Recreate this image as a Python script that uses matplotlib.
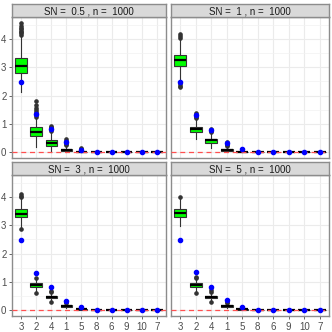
import numpy as np
import matplotlib
matplotlib.use("Agg")
import matplotlib.pyplot as plt
from matplotlib.ticker import MultipleLocator

plt.rcParams['font.family'] = ['Liberation Sans', 'DejaVu Sans']

categories = ["3", "2", "4", "1", "5", "8", "6", "9", "10", "7"]
titles = ["SN =  0.5 , n =  1000", "SN =  1 , n =  1000",
          "SN =  3 , n =  1000", "SN =  5 , n =  1000"]

# box statistics per panel (10 categories each)
q1 = [[2.81, 0.58, 0.22, 0.04, 0.0, 0, 0, 0, 0, 0],
      [3.04, 0.71, 0.33, 0.05, 0.0, 0, 0, 0, 0, 0],
      [3.29, 0.81, 0.41, 0.12, 0.01, 0, 0, 0, 0, 0],
      [3.31, 0.81, 0.42, 0.11, 0.01, 0, 0, 0, 0, 0]]
med = [[3.06, 0.72, 0.33, 0.07, 0.01, 0, 0, 0, 0, 0],
       [3.25, 0.80, 0.41, 0.08, 0.01, 0, 0, 0, 0, 0],
       [3.41, 0.88, 0.46, 0.15, 0.03, 0, 0, 0, 0, 0],
       [3.45, 0.87, 0.47, 0.14, 0.03, 0, 0, 0, 0, 0]]
q3 = [[3.32, 0.87, 0.42, 0.10, 0.02, 0, 0, 0, 0, 0],
      [3.43, 0.90, 0.48, 0.11, 0.02, 0, 0, 0, 0, 0],
      [3.56, 0.96, 0.51, 0.18, 0.05, 0, 0, 0, 0, 0],
      [3.58, 0.96, 0.51, 0.17, 0.05, 0, 0, 0, 0, 0]]
whislo = [[2.11, 0.19, 0.02, 0.0, 0.0, 0, 0, 0, 0, 0],
          [2.45, 0.45, 0.15, 0.0, 0.0, 0, 0, 0, 0, 0],
          [2.95, 0.65, 0.33, 0.07, 0.0, 0, 0, 0, 0, 0],
          [2.97, 0.68, 0.36, 0.07, 0.0, 0, 0, 0, 0, 0]]
whishi = [[4.10, 1.20, 0.70, 0.20, 0.05, 0, 0, 0, 0, 0],
          [4.00, 1.17, 0.70, 0.18, 0.05, 0, 0, 0, 0, 0],
          [3.95, 1.05, 0.58, 0.22, 0.08, 0, 0, 0, 0, 0],
          [3.95, 1.05, 0.60, 0.20, 0.07, 0, 0, 0, 0, 0]]
fliers = [
    [[4.15, 4.2, 4.25, 4.3, 4.35, 4.4, 4.45, 4.55],
     [1.25, 1.3, 1.35, 1.42, 1.5, 1.56, 1.65, 1.8],
     [0.75, 0.8, 0.85, 0.9, 0.93],
     [0.25, 0.3, 0.35, 0.4, 0.45],
     [0.07, 0.1, 0.13], [], [], [], [], []],
    [[4.05, 4.1, 4.17, 2.3, 2.35, 2.4],
     [1.2, 1.25, 1.3, 1.37],
     [0.72, 0.76, 0.8],
     [0.22, 0.26, 0.3, 0.34],
     [0.07, 0.1], [], [], [], [], []],
    [[4.0, 4.05, 4.1, 2.87],
     [1.12, 0.59],
     [0.63, 0.68, 0.29],
     [0.26, 0.3],
     [0.1], [], [], [], [], []],
    [[4.0],
     [1.12, 1.18, 0.6],
     [0.65, 0.7, 0.3],
     [0.25, 0.28],
     [0.09], [], [], [], [], []],
]
# true values (blue points)
truth = [[2.47, 1.33, 0.80, 0.34, 0.09, 0, 0, 0, 0, 0],
         [2.47, 1.31, 0.78, 0.33, 0.10, 0, 0, 0, 0, 0],
         [2.49, 1.32, 0.80, 0.33, 0.10, 0, 0, 0, 0, 0],
         [2.49, 1.34, 0.80, 0.35, 0.10, 0, 0, 0, 0, 0]]

W, H = 332, 332
fig = plt.figure(figsize=(W / 100, H / 100), dpi=100)

# panel boxes in pixels (left, top, right, bottom)
panels = [(12, 17, 166, 158), (171, 17, 329, 158),
          (12, 175, 166, 316), (171, 175, 329, 316)]
strip_h = 13
border = '#8c8c8c'
x = np.arange(1, len(categories) + 1)

for i, (l, t, r, b) in enumerate(panels):
    ax = fig.add_axes([l / W, 1 - b / H, (r - l) / W, (b - t) / H])
    stats = []
    for j in range(len(categories)):
        stats.append(dict(med=med[i][j], q1=q1[i][j], q3=q3[i][j],
                          whislo=whislo[i][j], whishi=whishi[i][j],
                          fliers=fliers[i][j]))
    ax.bxp(stats, positions=x, widths=0.75, patch_artist=True,
           boxprops=dict(facecolor='#00FF00', edgecolor='#333333', linewidth=0.8),
           medianprops=dict(color='black', linewidth=1.6),
           whiskerprops=dict(color='#333333', linewidth=0.8),
           capprops=dict(linewidth=0),
           flierprops=dict(marker='o', markersize=2.3, markerfacecolor='#333333',
                           markeredgecolor='#333333'),
           zorder=3)
    ax.axhline(0, color='#FF5050', linestyle=(0, (4, 3)), linewidth=0.9, zorder=4)
    ax.scatter(x, truth[i], color='blue', s=9, zorder=5)

    ax.set_xlim(0.4, 10.6)
    ax.set_ylim(-0.21, 4.78)
    ax.set_xticks(x)
    ax.yaxis.set_major_locator(MultipleLocator(1))
    ax.yaxis.set_minor_locator(MultipleLocator(0.5))
    ax.grid(True, which='major', color='#EBEBEB', linewidth=0.8, zorder=0)
    ax.grid(True, which='minor', axis='y', color='#F2F2F2', linewidth=0.5, zorder=0)
    ax.set_axisbelow(True)
    ax.tick_params(axis='both', which='major', length=2.5, width=0.6,
                   color='#4d4d4d', labelsize=7, labelcolor='#4d4d4d', pad=1.5)
    ax.tick_params(axis='y', which='minor', length=0)
    if i >= 2:
        ax.set_xticklabels(categories)
    else:
        ax.tick_params(axis='x', labelbottom=False)
    if i % 2 == 0:
        ax.set_yticks([0, 1, 2, 3, 4])
    else:
        ax.tick_params(axis='y', labelleft=False, length=0)
    if i < 2:
        ax.tick_params(axis='x', length=0)
    for s in ax.spines.values():
        s.set_color(border)
        s.set_linewidth(1.0)

    # facet strip
    sax = fig.add_axes([l / W, 1 - t / H, (r - l) / W, strip_h / H])
    sax.set_facecolor('#D9D9D9')
    sax.set_xticks([])
    sax.set_yticks([])
    for s in sax.spines.values():
        s.set_color(border)
        s.set_linewidth(1.0)
    sax.text(0.5, 0.45, titles[i], ha='center', va='center', fontsize=7,
             color='#1A1A1A', transform=sax.transAxes)

fig.savefig("out.png", dpi=100)
